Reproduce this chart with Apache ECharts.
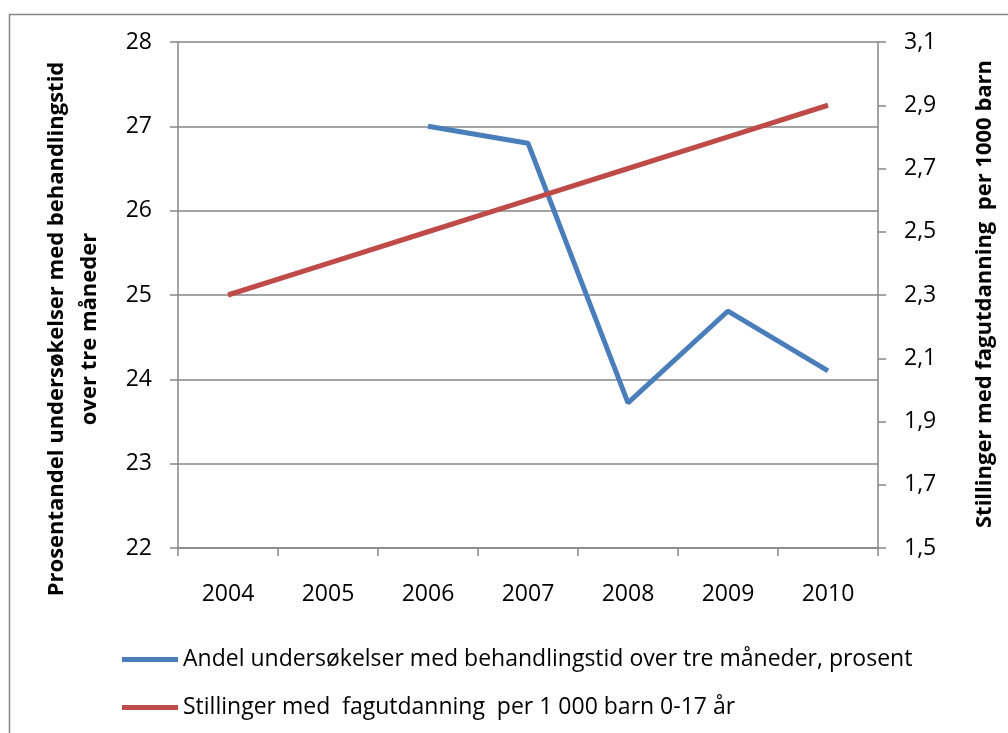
<!DOCTYPE html>
<html><head><meta charset="utf-8">
<script src="https://cdn.jsdelivr.net/npm/echarts@6/dist/echarts.min.js"></script>
<style>html,body{margin:0;padding:0;background:#fff}#c{width:1008px;height:733px}</style>
</head><body><div id="c"></div>
<script>
var categories = ['2004','2005','2006','2007','2008','2009','2010'];
var andelUndersokelser = [null, null, 27.0, 26.8, 23.72, 24.81, 24.1];
var stillinger = [2.3, 2.4, 2.5, 2.6, 2.7, 2.8, 2.9];
var seriesNames = ['Andel undersøkelser med behandlingstid over tre måneder, prosent',
                   'Stillinger med  fagutdanning  per 1 000 barn 0-17 år'];
var leftTitle = 'Prosentandel undersøkelser med behandlingstid\nover tre måneder';
var rightTitle = 'Stillinger med fagutdanning  per 1000 barn';

var FONT = 'Open Sans';
var AX = '#868686';
var chart = echarts.init(document.getElementById('c'));
chart.setOption({
  animation: false,
  textStyle: {fontFamily: FONT},
  grid: {left: 178, right: 130, top: 42, bottom: 185, containLabel: false},
  legend: {
    orient: 'vertical', left: 117, top: 643, itemGap: 25,
    itemWidth: 56, itemHeight: 5, icon: 'rect',
    textStyle: {fontFamily: FONT, fontSize: 23, color: '#000', padding: [0,0,0,0]},
    data: seriesNames
  },
  xAxis: {
    type: 'category', data: categories, boundaryGap: true,
    axisLine: {lineStyle: {color: AX, width: 1.5}},
    axisTick: {show: true, length: 8, lineStyle: {color: AX, width: 1.5}},
    axisLabel: {color: '#000', fontSize: 23, margin: 35}
  },
  yAxis: [{
    type: 'value', min: 22, max: 28, interval: 1,
    axisLine: {show: true, lineStyle: {color: AX, width: 1.5}},
    axisTick: {show: true, length: 8, lineStyle: {color: AX, width: 1.5}},
    axisLabel: {color: '#000', fontSize: 23, margin: 26},
    splitLine: {show: true, lineStyle: {color: AX, width: 1.5}}
  }, {
    type: 'value', min: 1.5, max: 3.1, interval: 0.2, position: 'right',
    axisLine: {show: true, lineStyle: {color: AX, width: 1.5}},
    axisTick: {show: true, length: 8, lineStyle: {color: AX, width: 1.5}},
    axisLabel: {color: '#000', fontSize: 23, margin: 26,
      formatter: function(v){ return v.toFixed(1).replace('.', ','); }},
    splitLine: {show: false}
  }],
  series: [{
    name: seriesNames[0], type: 'line', yAxisIndex: 0, data: andelUndersokelser,
    showSymbol: false, symbol: 'none', connectNulls: false,
    lineStyle: {color: '#4A7EBB', width: 5}, itemStyle: {color: '#4A7EBB'}
  }, {
    name: seriesNames[1], type: 'line', yAxisIndex: 1, data: stillinger,
    showSymbol: false, symbol: 'none',
    lineStyle: {color: '#BE4B48', width: 5}, itemStyle: {color: '#BE4B48'}
  }],
  graphic: [
    {type: 'rect', shape: {x: 9.5, y: 14.5, width: 1100, height: 800},
     style: {fill: 'none', stroke: '#868686', lineWidth: 1.5}, silent: true},
    {type: 'text', x: 73, y: 329, rotation: Math.PI/2,
     style: {text: leftTitle, fontFamily: FONT, fontSize: 22, fontWeight: 'bold',
       fill: '#000', align: 'center', verticalAlign: 'middle', lineHeight: 33}},
    {type: 'text', x: 985, y: 294, rotation: Math.PI/2,
     style: {text: rightTitle, fontFamily: FONT, fontSize: 22, fontWeight: 'bold',
       fill: '#000', align: 'center', verticalAlign: 'middle'}}
  ]
});
</script></body></html>
